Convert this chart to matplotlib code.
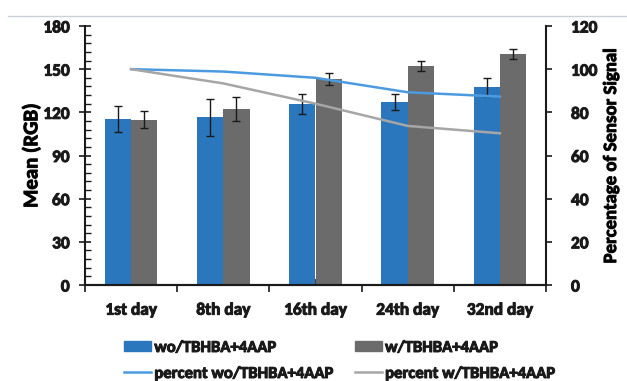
import matplotlib
matplotlib.use("Agg")
import matplotlib.pyplot as plt
import matplotlib.patheffects as pe
from matplotlib.text import Text
from matplotlib.lines import Line2D
from matplotlib.patches import Patch
import numpy as np

categories = ["1st day", "8th day", "16th day", "24th day", "32nd day"]
mean_wo = [115.4, 116.5, 125.8, 127.2, 137.6]
err_wo = [9.3, 12.8, 7.0, 5.5, 6.2]
mean_w = [115.0, 122.5, 143.0, 152.2, 160.5]
err_w = [6.0, 8.5, 4.2, 3.2, 3.3]
pct_wo = [100.0, 98.9, 96.0, 89.3, 87.3]
pct_w = [100.0, 93.4, 84.0, 73.7, 70.3]

plt.rcParams['font.family'] = ['Carlito', 'DejaVu Sans']
plt.rcParams['font.weight'] = 'bold'
FS = 12.5
TXT = '#1a1a1a'
plt.rcParams['text.color'] = TXT
plt.rcParams['xtick.color'] = TXT
plt.rcParams['ytick.color'] = TXT

fig = plt.figure(figsize=(6.27, 3.81), dpi=100)
ax = fig.add_axes([85/627, 1-285/381, (546-85)/627, (285-26)/381])
ax2 = ax.twinx()

x = np.arange(len(categories))
bw = 0.285
c_blue = "#2b77bd"
c_gray = "#6b6b6b"
ax.bar(x - bw/2, mean_wo, bw, color=c_blue, zorder=2)
ax.bar(x + bw/2, mean_w, bw, color=c_gray, zorder=2)
ax.errorbar(x - bw/2, mean_wo, yerr=err_wo, fmt='none', ecolor='#1a1a1a', elinewidth=1, capsize=3, capthick=1, zorder=3)
ax.errorbar(x + bw/2, mean_w, yerr=err_w, fmt='none', ecolor='#1a1a1a', elinewidth=1, capsize=3, capthick=1, zorder=3)

ax2.plot(x, pct_wo, color="#4c9be0", lw=1.8)
ax2.plot(x, pct_w, color="#a6a6a6", lw=1.8)

ax.set_xlim(-0.5, len(categories) - 0.5)
ax.set_ylim(0, 180)
ax2.set_ylim(0, 120)
ax.set_yticks(np.arange(0, 181, 30))
ax.set_yticks(np.arange(0, 181, 6), minor=True)
ax2.set_yticks(np.arange(0, 121, 20))

ax.set_xticks(np.arange(-0.5, len(categories), 1.0))
ax.set_xticklabels([])
ax.set_xticks(x, minor=True)
ax.set_xticklabels(categories, minor=True)

for a in (ax, ax2):
    a.spines['top'].set_visible(False)
    for s in a.spines.values():
        s.set_linewidth(1.5)
        s.set_color('#1a1a1a')
ax2.spines['left'].set_visible(False)
ax.spines['right'].set_visible(False)

ax.tick_params(axis='y', which='major', direction='inout', length=8, width=1.2, labelsize=FS, pad=7)
ax.tick_params(axis='y', which='minor', direction='in', length=4, width=1.0)
ax.tick_params(axis='x', which='major', direction='out', length=5, width=1.2)
ax.tick_params(axis='x', which='minor', direction='in', length=4, width=1.2, labelsize=FS, pad=12)
ax2.tick_params(axis='y', which='major', direction='out', length=4, width=1.2, labelsize=FS, pad=14)

for lab in ax.get_yticklabels() + ax2.get_yticklabels() + ax.get_xticklabels(minor=True):
    lab.set_fontweight('bold')

ax.set_ylabel("Mean (RGB)", fontsize=15, fontweight='bold', labelpad=2)
ax2.set_ylabel("Percentage of Sensor Signal", fontsize=13.5, fontweight='bold', labelpad=4)

fig.add_artist(Line2D([8/627, 1], [1-16/381, 1-16/381], color="#c9d1d6", lw=1))

handles = [Patch(color=c_blue), Line2D([], [], color="#4c9be0", lw=1.8),
           Patch(color=c_gray), Line2D([], [], color="#a6a6a6", lw=1.8)]
labels = ["wo/TBHBA+4AAP", "percent wo/TBHBA+4AAP", "w/TBHBA+4AAP", "percent w/TBHBA+4AAP"]
leg = fig.legend(handles, labels, ncol=2, loc='center left', bbox_to_anchor=(109/627, 1-360/381),
                 frameon=False, prop={'weight': 'bold', 'size': 12}, handlelength=1.62,
                 handleheight=0.6, handletextpad=0.2, columnspacing=1.3, labelspacing=0.6)

for t in fig.findobj(Text):
    if t.get_text():
        t.set_path_effects([pe.withStroke(linewidth=0.7, foreground=TXT)])

fig.savefig("out.png", dpi=100)
